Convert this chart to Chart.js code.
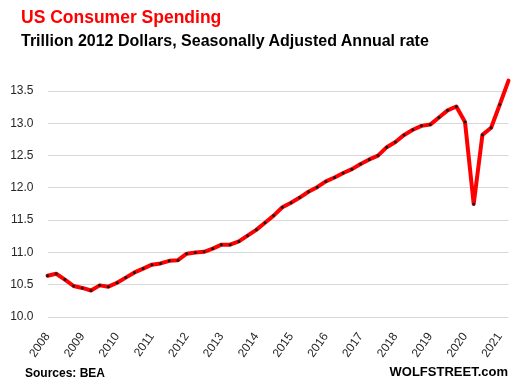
<!DOCTYPE html>
<html lang="en">
<head>
    <meta charset="UTF-8">
    <title>US Consumer Spending</title>
    <script src="https://cdn.jsdelivr.net/npm/chart.js"></script>
    <style>
        body {
            margin: 0;
            background: #fff;
            font-family: 'Liberation Sans', Arial, sans-serif;
        }

        .wrap {
            position: relative;
            width: 519px;
            height: 390px;
        }

        .wrap canvas {
            position: absolute;
            left: 0;
            top: 0;
        }

        .txt {
            position: absolute;
            font-weight: bold;
            line-height: 1;
            white-space: nowrap;
        }

        #title { left: 21px; top: 9px; font-size: 17.5px; color: #ff0000; }
        #subtitle { left: 21px; top: 33px; font-size: 16px; color: #000; }
        #source { left: 25px; top: 367px; font-size: 12px; color: #000; }
        #brand { right: 11px; top: 365px; font-size: 13px; color: #000; }
    </style>
</head>
<body>
    <div class="wrap">
        <canvas id="spendingChart" width="519" height="390"></canvas>
        <div class="txt" id="title">US Consumer Spending</div>
        <div class="txt" id="subtitle">Trillion 2012 Dollars, Seasonally Adjusted Annual rate</div>
        <div class="txt" id="source">Sources: BEA</div>
        <div class="txt" id="brand">WOLFSTREET.com</div>
    </div>

    <script>
        // quarterly, 2008 Q1 .. 2021 Q2
        const years = [2008, 2009, 2010, 2011, 2012, 2013, 2014, 2015, 2016, 2017, 2018, 2019, 2020, 2021];
        const quartersPerYear = ['Q1', 'Q2', 'Q3', 'Q4'];

        // trillion 2012 dollars, SAAR
        const spending = [
            10.64, 10.67, 10.58, 10.48, 10.45, 10.41, 10.49, 10.47,
            10.53, 10.61, 10.69, 10.75, 10.81, 10.83, 10.87, 10.88,
            10.98, 11.00, 11.01, 11.06, 11.12, 11.12, 11.17, 11.26,
            11.35, 11.46, 11.57, 11.70, 11.77, 11.85, 11.94, 12.01,
            12.10, 12.16, 12.23, 12.29, 12.37, 12.44, 12.50, 12.63,
            12.71, 12.82, 12.90, 12.96, 12.98, 13.09, 13.20, 13.26,
            13.02, 11.75, 12.82, 12.93, 13.29, 13.66
        ];

        const yTicks = [10.0, 10.5, 11.0, 11.5, 12.0, 12.5, 13.0, 13.5];

        // build the category labels
        const labels = [];
        years.forEach(function (y) {
            quartersPerYear.forEach(function (q) {
                if (labels.length < spending.length) labels.push(y + ' ' + q);
            });
        });

        const tickFont = { family: "'Liberation Sans', Arial, sans-serif", size: 12 };

        const ctx = document.getElementById('spendingChart').getContext('2d');
        new Chart(ctx, {
            type: 'line',
            data: {
                labels: labels,
                datasets: [{
                    label: 'US Consumer Spending',
                    data: spending,
                    borderColor: '#ff0000',
                    borderWidth: 4,
                    borderJoinStyle: 'round',
                    borderCapStyle: 'round',
                    tension: 0,
                    clip: false,
                    pointRadius: 1.5,
                    pointBorderWidth: 0,
                    pointBackgroundColor: '#1a1a1a'
                }]
            },
            options: {
                responsive: false,
                animation: false,
                layout: {
                    padding: { top: 91, right: 10.5, bottom: 0, left: 0 }
                },
                plugins: {
                    legend: { display: false },
                    title: { display: false },
                    tooltip: { enabled: false }
                },
                scales: {
                    x: {
                        offset: false,
                        grid: { display: false },
                        border: { display: false },
                        afterFit: function (scale) {
                            scale.height = 73;
                            scale.paddingLeft = 0;
                            scale.paddingRight = 0;
                        },
                        ticks: {
                            autoSkip: false,
                            minRotation: 55,
                            maxRotation: 55,
                            padding: 5,
                            color: '#262626',
                            font: tickFont,
                            callback: function (val, index) {
                                const lab = labels[index];
                                return lab.endsWith('Q1') ? lab.slice(0, 4) : '';
                            }
                        }
                    },
                    y: {
                        min: 10,
                        max: 13.5,
                        afterFit: function (scale) {
                            scale.width = 47.5;
                            scale.paddingTop = 0;
                            scale.paddingBottom = 0;
                        },
                        afterBuildTicks: function (scale) {
                            scale.ticks = yTicks.map(function (v) { return { value: v }; });
                        },
                        grid: { color: '#d9d9d9', lineWidth: 1, drawTicks: false },
                        border: { display: false },
                        ticks: {
                            padding: 14,
                            color: '#262626',
                            font: tickFont,
                            callback: function (v) { return Number(v).toFixed(1); }
                        }
                    }
                }
            }
        });
    </script>
</body>
</html>
